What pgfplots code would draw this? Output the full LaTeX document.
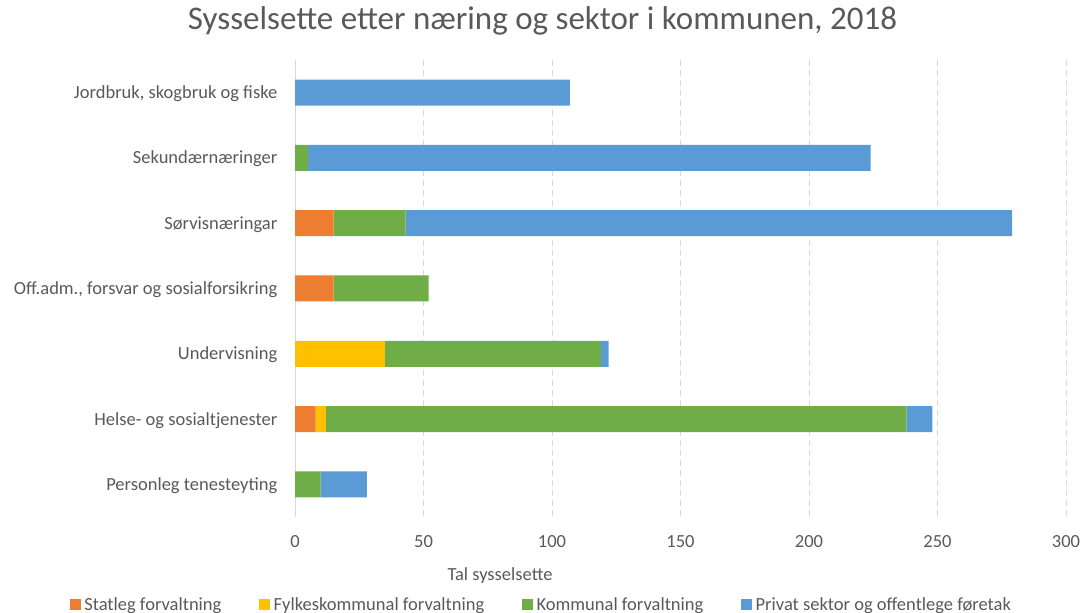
\documentclass[border=0pt]{standalone}
\usepackage{pgfplots}
\pgfplotsset{compat=1.18}
\usepackage{fontspec}
\setmainfont{Carlito}
\definecolor{txt}{HTML}{595959}
\definecolor{grd}{HTML}{D9D9D9}
\definecolor{cO}{HTML}{ED7D31}
\definecolor{cY}{HTML}{FFC000}
\definecolor{cG}{HTML}{70AD47}
\definecolor{cB}{HTML}{5B9BD5}
\newcommand{\lblfont}{\fontsize{18.5bp}{22bp}\selectfont}
\newcommand{\ttlfont}{\fontsize{33bp}{38bp}\selectfont}
\begin{document}
\begin{tikzpicture}[x=1bp,y=1bp]
\useasboundingbox (0,0) rectangle (1086,613);
\begin{axis}[
  at={(295bp,96bp)}, anchor=south west,
  scale only axis, width=771bp, height=457bp,
  xbar stacked, bar width=26bp,
  xmin=0, xmax=300, ymin=-0.5, ymax=6.5, y dir=reverse,
  xtick={0,50,...,300},
  ytick={0,...,6},
  yticklabels={{Jordbruk, skogbruk og fiske},{Sekundærnæringer},{Sørvisnæringar},{Off.adm., forsvar og sosialforsikring},{Undervisning},{Helse- og sosialtjenester},{Personleg tenesteyting}},
  /pgf/number format/assume math mode=true,
  axis x line*=bottom, axis y line*=left,
  x axis line style={draw=none},
  y axis line style={draw=grd, line width=1bp, -},
  major tick length=0pt, tick style={draw=none},
  xmajorgrids, grid style={draw=grd, line width=1bp, dash pattern=on 6bp off 4bp},
  tick label style={font=\lblfont, text=txt, inner sep=0pt},
  xticklabel style={anchor=base, yshift=-30.5bp},
  yticklabel style={anchor=base east, xshift=-17.5bp, yshift=-6bp},
  title={Sysselsette etter næring og sektor i kommunen, 2018},
  title style={at={(axis description cs:0.321,1)}, anchor=base, yshift=25bp, font=\ttlfont, text=txt, inner sep=0pt},
  xlabel={Tal sysselsette},
  xlabel style={at={(axis description cs:0.2659,0)}, anchor=base, yshift=-63bp, font=\lblfont, text=txt, inner sep=0pt},
  legend columns=4,
  legend image code/.code={\fill[#1,draw=none] (0bp,-5.5bp) rectangle (11bp,5.5bp);},
  legend style={draw=none, fill=none, inner sep=0pt, outer sep=0pt,
    at={(axis description cs:0,0)}, anchor=south west, xshift=-225bp, yshift=-93bp,
    nodes={inner sep=0pt, text height=12bp, text depth=0pt, font=\lblfont, text=txt},
    /tikz/every odd column/.append style={column sep=3.3bp},
    /tikz/every even column/.append style={column sep=38bp}},
]
\addplot[fill=cO, draw=none] coordinates {(0,0) (0,1) (15,2) (15,3) (0,4) (8,5) (0,6)};
\addplot[fill=cY, draw=none] coordinates {(0,0) (0,1) (0,2) (0,3) (35,4) (4,5) (0,6)};
\addplot[fill=cG, draw=none] coordinates {(0,0) (5,1) (28,2) (37,3) (84,4) (226,5) (10,6)};
\addplot[fill=cB, draw=none] coordinates {(107,0) (219,1) (236,2) (0,3) (3,4) (10,5) (18,6)};
\legend{Statleg forvaltning, Fylkeskommunal forvaltning, Kommunal forvaltning, Privat sektor og offentlege føretak}
\end{axis}
\end{tikzpicture}
\end{document}
